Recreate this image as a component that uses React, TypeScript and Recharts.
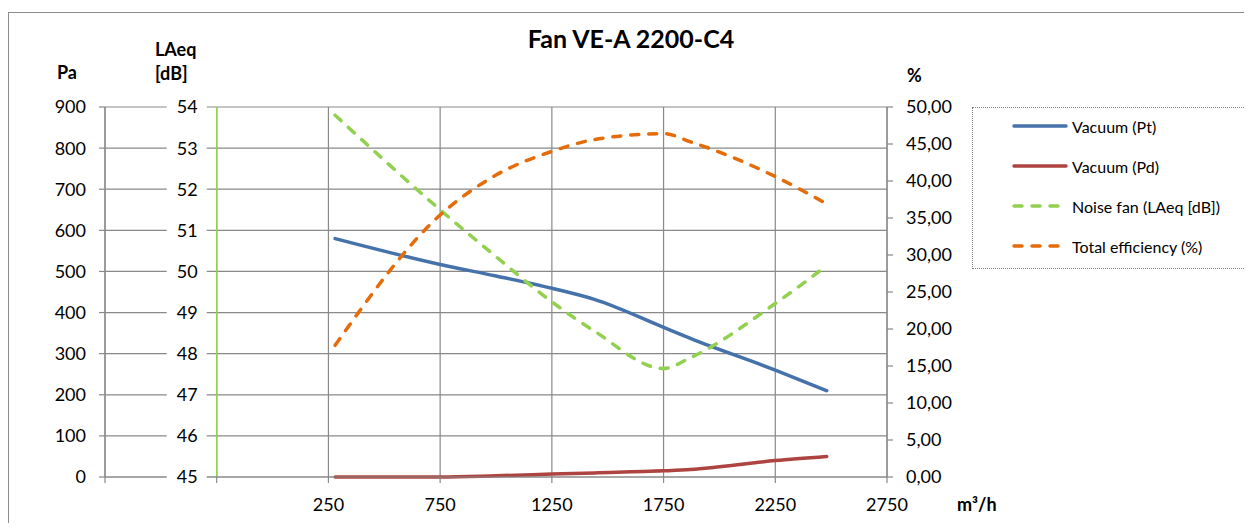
import React from 'react';
import {
  LineChart,
  Line,
  XAxis,
  YAxis,
  CartesianGrid,
  ReferenceLine,
  ReferenceDot,
  Legend
} from 'recharts';

// air flow m3/h
const FLOW = [280, 750, 1000, 1250, 1440, 1750, 1870, 2250, 2480];
// vacuum Pa
const PT = [580, 517, 489, 459, 432, 364, 337, 260, 210];
const PD = [0, 0, 3, 7, 10, 15, 18, 40, 50];
// noise LAeq dB
const NOISE = [53.8, 51.5, 50.36, 49.26, 48.55, 47.64, 47.9, 49.22, 50.14];
// efficiency %
const EFF = [17.8, 35.4, 40.8, 44.0, 45.6, 46.4, 45.3, 40.6, 36.9];

const X_TICKS = [-750, -250, 250, 750, 1250, 1750, 2250, 2750];
const PA_TICKS = [0, 100, 200, 300, 400, 500, 600, 700, 800, 900];
const DB_TICKS = [45, 46, 47, 48, 49, 50, 51, 52, 53, 54];
const PCT_TICKS = [0, 5, 10, 15, 20, 25, 30, 35, 40, 45, 50];

const SERIES = [
  { key: 'pt', name: 'Vacuum (Pt)', color: '#4672AC', dash: undefined, axis: 'pa' },
  { key: 'pd', name: 'Vacuum (Pd)', color: '#AD4441', dash: undefined, axis: 'pa' },
  { key: 'noise', name: 'Noise fan (LAeq [dB])', color: '#92D050', dash: '8 10', axis: 'db' },
  { key: 'eff', name: 'Total efficiency (%)', color: '#E46C0A', dash: '8 10', axis: 'pct' }
];

const data = FLOW.map((f, i) => ({ flow: f, pt: PT[i], pd: PD[i], noise: NOISE[i], eff: EFF[i] }));

const FONT = 'Lato, "Open Sans", sans-serif';
const GRID = '#898989';
const PA_AXIS_X = 97; // margin.left + YAxis width

const tickStyle = { fontSize: 18, fill: '#000', fontFamily: FONT };

const LegendBox = () => (
  <div
    style={{
      width: 280,
      height: 162,
      border: '1px dotted #808080',
      boxSizing: 'border-box',
      position: 'relative',
      background: '#fff',
      fontFamily: FONT
    }}
  >
    {SERIES.map((s, i) => (
      <div key={s.key} style={{ position: 'absolute', left: 39, top: 18 + i * 40 - 10, height: 20, display: 'flex', alignItems: 'center' }}>
        <svg width={56} height={20}>
          <line x1={2} y1={10} x2={54} y2={10} stroke={s.color} strokeWidth={3.5} strokeDasharray={s.dash ? '8 10' : undefined} strokeLinecap="round" />
        </svg>
        <span style={{ marginLeft: 4, fontSize: 16, color: '#000', whiteSpace: 'nowrap' }}>{s.name}</span>
      </div>
    ))}
  </div>
);

const PaTick = (props: any) => {
  const { y, payload } = props;
  return (
    <text x={PA_AXIS_X - 19} y={y} dy="0.355em" textAnchor="end" fontSize={18} fontFamily={FONT} fill="#000">
      {payload.value}
    </text>
  );
};

const DbLabel = (props: any) => {
  const { cx, cy, value } = props;
  return (
    <g>
      <rect x={cx - 50} y={cy - 10} width={40} height={20} fill="#fff" />
      <text x={cx - 19} y={cy} dy="0.355em" textAnchor="end" fontSize={18} fontFamily={FONT} fill="#000">
        {value}
      </text>
    </g>
  );
};

const bold: React.CSSProperties = { position: 'absolute', fontFamily: FONT, fontWeight: 700, fontSize: 18, color: '#000', lineHeight: '20px', whiteSpace: 'nowrap' };

export default function App() {
  return (
    <div style={{ position: 'relative', width: 1244, height: 515 }}>
      <div
        style={{
          position: 'absolute',
          left: 0,
          top: 4,
          width: 1243,
          height: 511,
          boxSizing: 'border-box',
          borderTop: '1px solid #8c8c8c',
          borderLeft: '1px solid #8c8c8c',
          borderRight: '1px solid #8c8c8c'
        }}
      />
      <LineChart width={1244} height={515} data={data} margin={{ top: 99, right: 285, bottom: 6, left: 0 }}>
        <CartesianGrid yAxisId="pa" stroke={GRID} strokeWidth={1.2} />
        <XAxis
          dataKey="flow"
          type="number"
          domain={[-750, 2750]}
          ticks={X_TICKS}
          allowDataOverflow
          tickFormatter={(v: number) => (v < 0 ? '' : String(v))}
          stroke={GRID}
          strokeWidth={1.2}
          tickSize={6}
          tickMargin={15}
          height={40}
          tick={tickStyle}
        />
        <YAxis
          yAxisId="pa"
          orientation="left"
          domain={[0, 900]}
          ticks={PA_TICKS}
          width={PA_AXIS_X}
          stroke={GRID}
          strokeWidth={1.2}
          tickSize={6}
          tick={<PaTick />}
          interval={0}
        />
        <YAxis yAxisId="db" domain={[45, 54]} ticks={DB_TICKS} width={0} hide />
        <YAxis
          yAxisId="pct"
          orientation="right"
          domain={[0, 50]}
          ticks={PCT_TICKS}
          width={80}
          stroke={GRID}
          strokeWidth={1.2}
          tickSize={6}
          tickMargin={13}
          tick={tickStyle}
          interval={0}
          tickFormatter={(v: number) => v.toFixed(2).replace('.', ',')}
        />
        <ReferenceLine yAxisId="pa" x={-250} stroke="#92D050" strokeWidth={1.5} />
        {DB_TICKS.map((v) => (
          <ReferenceDot
            key={v}
            yAxisId="db"
            x={-250}
            y={v}
            shape={(p: any) => <DbLabel {...p} value={v} />}
          />
        ))}
        {SERIES.map((s) => (
          <Line
            key={s.key}
            yAxisId={s.axis}
            dataKey={s.key}
            name={s.name}
            type="monotone"
            stroke={s.color}
            strokeWidth={3.5}
            strokeDasharray={s.dash}
            strokeLinecap="round"
            dot={false}
            activeDot={false}
            isAnimationActive={false}
          />
        ))}
        <Legend
          layout="vertical"
          align="center"
          verticalAlign="middle"
          content={() => <LegendBox />}
          wrapperStyle={{ left: 964, top: 99, width: 280, height: 162 }}
        />
      </LineChart>
      <div style={{ ...bold, fontSize: 25, left: 0, width: 1246, textAlign: 'center', top: 20 }}>Fan VE-A 2200-C4</div>
      <div style={{ ...bold, left: 49, top: 54 }}>Pa</div>
      <div style={{ ...bold, left: 147, top: 31 }}>LAeq</div>
      <div style={{ ...bold, left: 147, top: 55 }}>[dB]</div>
      <div style={{ ...bold, left: 899, top: 57 }}>%</div>
      <div style={{ ...bold, left: 949, top: 486 }}>m³/h</div>
    </div>
  );
}
